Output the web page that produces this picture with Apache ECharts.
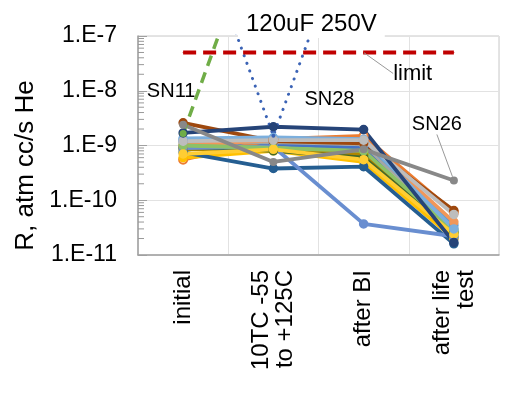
<!DOCTYPE html>
<html><head><meta charset="utf-8">
<script src="https://cdn.jsdelivr.net/npm/echarts@6/dist/echarts.min.js"></script>
<style>html,body{margin:0;padding:0;background:#fff}#c{width:521px;height:395px}</style>
</head><body><div id="c"></div>
<script>
// ---- data ----
const categories = ['initial', '10TC -55\nto +125C', 'after BI', 'after life\ntest'];
const yTickLabels = ['1.E-11', '1.E-10', '1.E-9', '1.E-8', '1.E-7'];
const yMin = 1e-11, yMax = 1e-7;
const minorTickValues = [];
[-11, -10, -9, -8].forEach(e => { for (let k = 2; k <= 9; k++) minorTickValues.push(k * Math.pow(10, e)); });

const s01 = [1.20e-9, 1.05e-9, 0.90e-9, 2.0e-11];
const s02 = [0.55e-9, 1.30e-9, 1.50e-9, 6.0e-11];
const s03 = [1.10e-9, 1.15e-9, 1.05e-9, 3.0e-11];
const s04 = [0.60e-9, 0.80e-9, 0.50e-9, 2.0e-11];
const s05 = [1.30e-9, 1.30e-9, 1.20e-9, 3.5e-11];
const s06 = [0.90e-9, 0.85e-9, 0.65e-9, 2.5e-11];
const s07 = [1.70e-9, 2.20e-9, 1.95e-9, 1.7e-11];
const s08 = [2.60e-9, 1.20e-9, 1.10e-9, 6.5e-11];
const sn26 = [2.40e-9, 0.50e-9, 0.85e-9, 2.3e-10];
const s10 = [0.85e-9, 0.90e-9, 0.70e-9, 2.2e-11];
const s11 = [0.75e-9, 0.38e-9, 0.41e-9, 1.6e-11];
const s12 = [0.95e-9, 0.80e-9, 0.60e-9, 2.6e-11];
const s13 = [0.90e-9, 0.95e-9, 3.7e-11, 2.2e-11];
const s14 = [1.00e-9, 1.25e-9, 1.30e-9, 4.0e-11];
const s15 = [1.20e-9, 1.25e-9, 1.25e-9, 5.5e-11];
const s16 = [0.70e-9, 0.85e-9, 0.55e-9, 2.4e-11];
const s17 = [1.35e-9, 1.40e-9, 1.30e-9, 3.0e-11];
const s18 = [1.00e-9, 0.90e-9, 0.80e-9, 2.8e-11];
const sn11 = [1.65e-9, 6.0e-5, null, null];
const sn28 = [5.0e-5, 1.5e-9, 5.0e-5, null];
const limit = [5e-8, 5e-8, 5e-8, 5e-8];

// ---- styles ----
const FONT = "'Liberation Sans', Arial, sans-serif";
const solid = [
  [s01, '#4472C4', 'circle'], [s02, '#ED7D31', 'emptyCircle'], [s03, '#A5A5A5', 'circle'],
  [s04, '#FFC000', 'circle'], [s05, '#5B9BD5', 'circle'], [s06, '#5f9e3c', 'circle'],
  [s10, '#B08600', 'circle'], [s11, '#255E91', 'circle'], [s12, '#43682B', 'circle'],
  [s13, '#698ED0', 'circle'], [s14, '#F1975A', 'circle'], [s08, '#9E480E', 'circle'],
  [s18, '#8CC168', 'circle'], [s16, '#FFCD33', 'circle'], [s17, '#7CAFDD', 'circle'],
  [s15, '#BDBDBD', 'circle'], [s07, '#264478', 'circle']
];

const series = solid.map(([d, c, sym]) => ({
  type: 'line', data: d, symbol: sym, symbolSize: 8, showSymbol: true,
  lineStyle: { color: c, width: 3.8 }, itemStyle: { color: c, borderColor: c, borderWidth: 1.5 },
  emphasis: { disabled: true }, z: 3
}));

series.push({
  type: 'line', symbol: 'circle', symbolSize: 8,
  data: sn26.map((v, i) => i === 3 ? { value: v, label: { show: true, formatter: 'SN26', position: 'top', fontSize: 20, color: '#000', fontFamily: FONT } } : v),
  lineStyle: { color: '#888888', width: 3.8 }, itemStyle: { color: '#888888' },
  labelLayout: { dx: -17, dy: -37 },
  labelLine: { show: true, lineStyle: { color: '#999', width: 1 } },
  emphasis: { disabled: true }, z: 3
});

series.push({
  type: 'line', symbol: 'circle', symbolSize: 7,
  data: sn11.map((v, i) => i === 0 ? { value: v, label: { show: true, formatter: 'SN11', position: 'top', offset: [-12, -24], fontSize: 20, color: '#000', fontFamily: FONT } } : v),
  lineStyle: { color: '#70AD47', width: 3.5, type: [11, 7] }, itemStyle: { color: '#70AD47' },
  emphasis: { disabled: true }, z: 3
});

series.push({
  type: 'line', symbol: 'circle', symbolSize: 4,
  data: sn28.map((v, i) => i === 1 ? { value: v, label: { show: true, formatter: 'SN28', position: 'right', offset: [24, -36], fontSize: 20, color: '#000', fontFamily: FONT } } : v),
  lineStyle: { color: '#3B63B5', width: 3, type: [0.1, 8], cap: 'round' }, itemStyle: { color: '#3B63B5' },
  emphasis: { disabled: true }, z: 3
});

series.push({
  type: 'line', symbol: 'circle', symbolSize: 1,
  data: limit.map((v, i) => i === 2 ? { value: v, label: { show: true, formatter: 'limit', position: 'right', fontSize: 22, color: '#000', fontFamily: FONT } } : v),
  lineStyle: { color: '#C00000', width: 4, type: [13, 7] }, itemStyle: { color: '#C00000' },
  labelLayout: { dx: 24, dy: 21 },
  labelLine: { show: true, lineStyle: { color: '#999', width: 1 } },
  emphasis: { disabled: true }, z: 4
});

series.push({
  type: 'custom', silent: true, z: 5,
  data: minorTickValues.map(v => [0, v]),
  encode: { x: 0, y: 1 },
  renderItem(params, api) {
    const y = api.coord([0, api.value(1)])[1];
    const x = params.coordSys.x;
    return { type: 'line', shape: { x1: x, y1: y, x2: x + 6, y2: y }, style: { stroke: '#999999', lineWidth: 1 } };
  }
});

const chart = echarts.init(document.getElementById('c'), null, { renderer: 'canvas' });
chart.setOption({
  animation: false,
  backgroundColor: '#fff',
  textStyle: { fontFamily: FONT },
  title: {
    text: '120uF 250V', left: 238, top: 10, padding: [2, 8, 2, 8], backgroundColor: '#fff',
    textStyle: { fontSize: 24, fontWeight: 'normal', color: '#000', fontFamily: FONT }
  },
  grid: { left: 138, right: 22, top: 36, bottom: 140, show: true, borderColor: '#c8c8c8', borderWidth: 1 },
  xAxis: {
    type: 'category', data: categories, boundaryGap: true,
    axisLine: { lineStyle: { color: '#a0a0a0', width: 1.5 } },
    axisTick: { show: false },
    splitLine: { show: true, lineStyle: { color: '#e2e2e2', width: 1 } },
    axisLabel: { rotate: 90, fontSize: 24, color: '#000', margin: 15, lineHeight: 24, fontFamily: FONT, interval: 0 }
  },
  yAxis: {
    type: 'log', logBase: 10, min: yMin, max: yMax,
    name: 'R, atm cc/s He', nameLocation: 'middle', nameGap: 92,
    nameTextStyle: { fontSize: 26, color: '#000', fontFamily: FONT, padding: [0, 0, 0, -40] },
    axisLine: { show: true, lineStyle: { color: '#a0a0a0', width: 1.5 } },
    axisTick: { show: true, inside: true, length: 9, lineStyle: { color: '#a0a0a0' } },
    splitLine: { show: true, lineStyle: { color: '#e2e2e2', width: 1 } },
    axisLabel: {
      fontSize: 23, color: '#000', margin: 21, fontFamily: FONT,
      formatter: v => yTickLabels[Math.round(Math.log10(v)) + 11]
    }
  },
  series
});
</script>
</body></html>
